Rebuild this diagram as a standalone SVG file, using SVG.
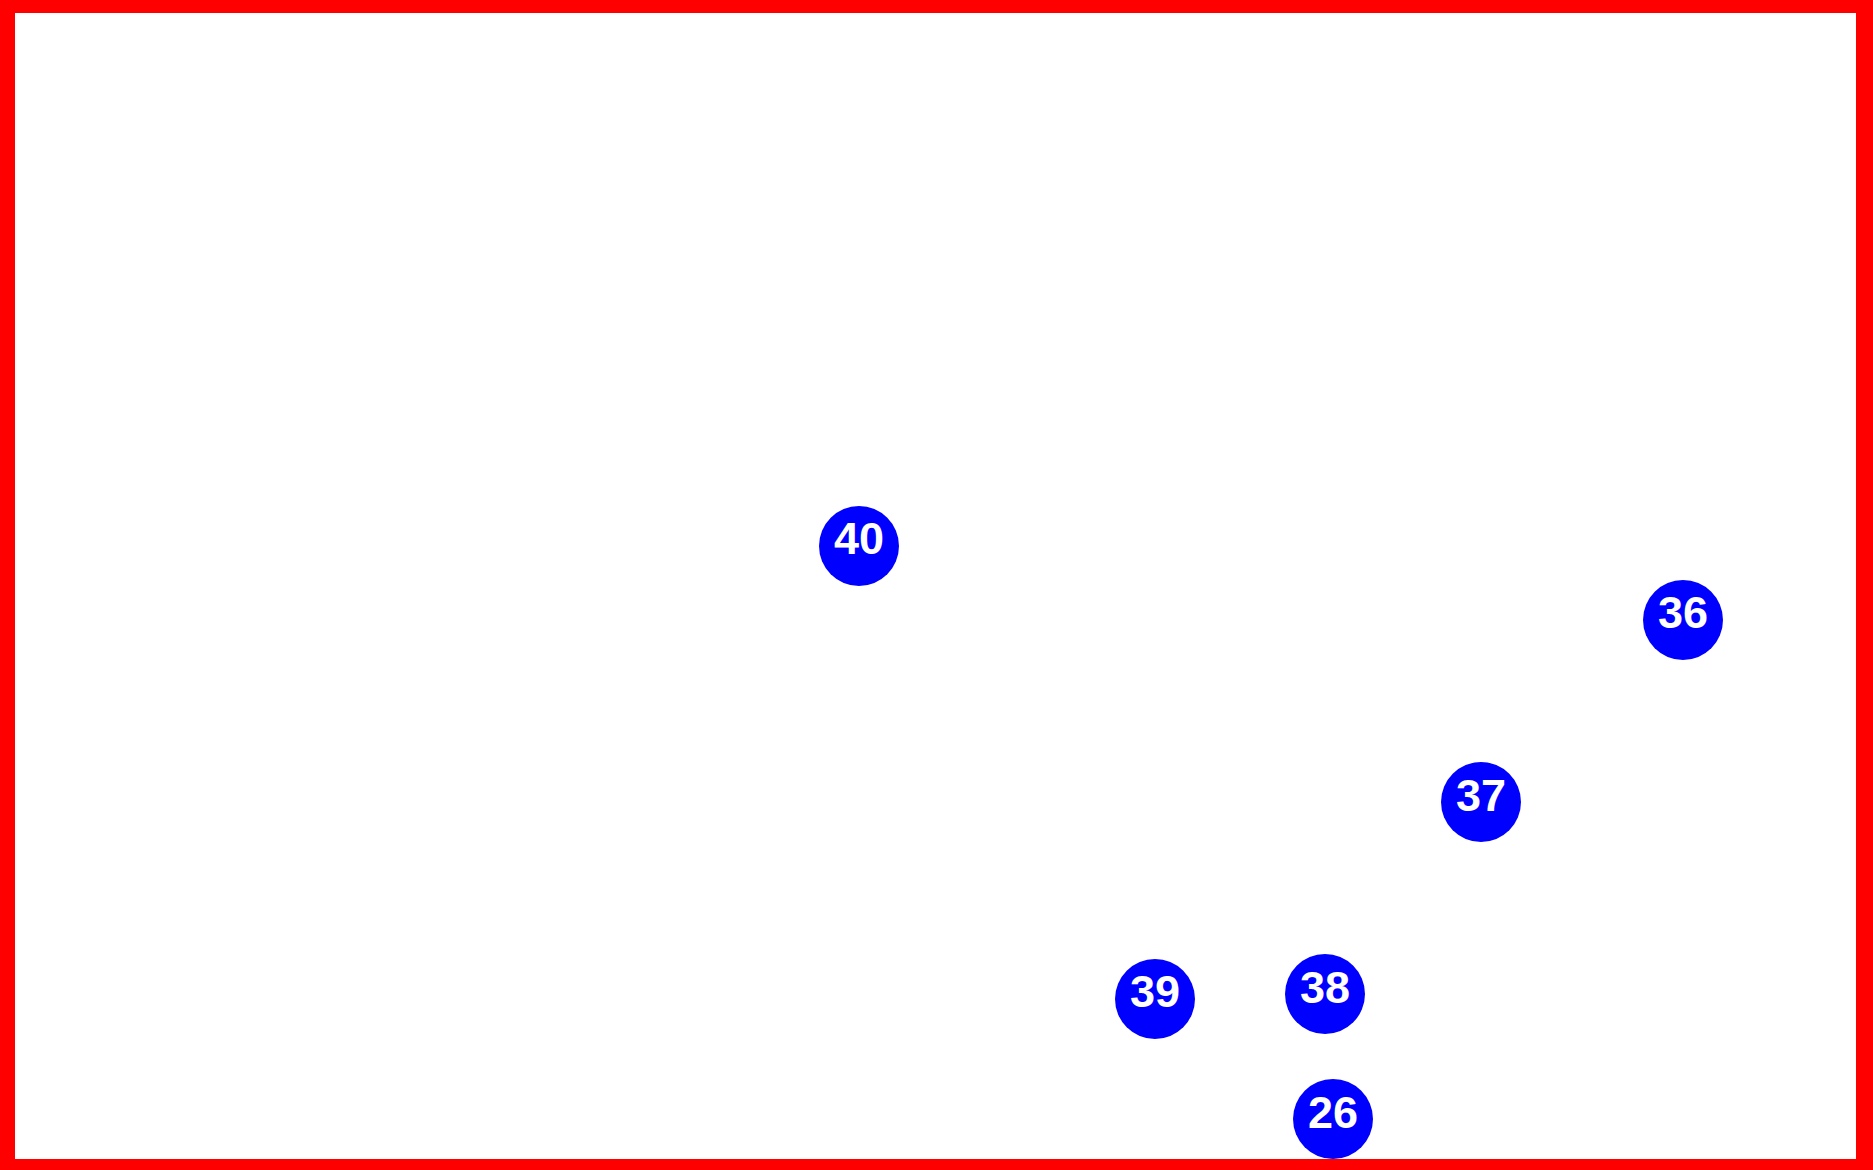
<svg xmlns="http://www.w3.org/2000/svg" width="1873" height="1170" viewBox="0 0 1873 1170">
<style>
.n circle{fill:#0000ff}
.n text{fill:#ffffff;font-family:"Liberation Sans",Arial,sans-serif;font-weight:bold;font-size:45px;text-anchor:middle}
</style>
<rect x="0" y="0" width="1873" height="1170" fill="#ffffff"/>
<path d="M0 0H1873V1170H0Z M15 13V1159H1856V13Z" fill="#ff0000" fill-rule="evenodd"/>
<g id="connectors"></g>
<g id="n40" class="n"><circle cx="859" cy="546" r="40"/><text x="859" y="554">40</text></g>
<g id="n36" class="n"><circle cx="1683" cy="620" r="40"/><text x="1683" y="628">36</text></g>
<g id="n37" class="n"><circle cx="1481" cy="802" r="40"/><text x="1481" y="811">37</text></g>
<g id="n39" class="n"><circle cx="1155" cy="999" r="40"/><text x="1155" y="1007">39</text></g>
<g id="n38" class="n"><circle cx="1325" cy="994" r="40"/><text x="1325" y="1003">38</text></g>
<g id="n26" class="n"><circle cx="1333" cy="1119" r="40"/><text x="1333" y="1128">26</text></g>
</svg>
